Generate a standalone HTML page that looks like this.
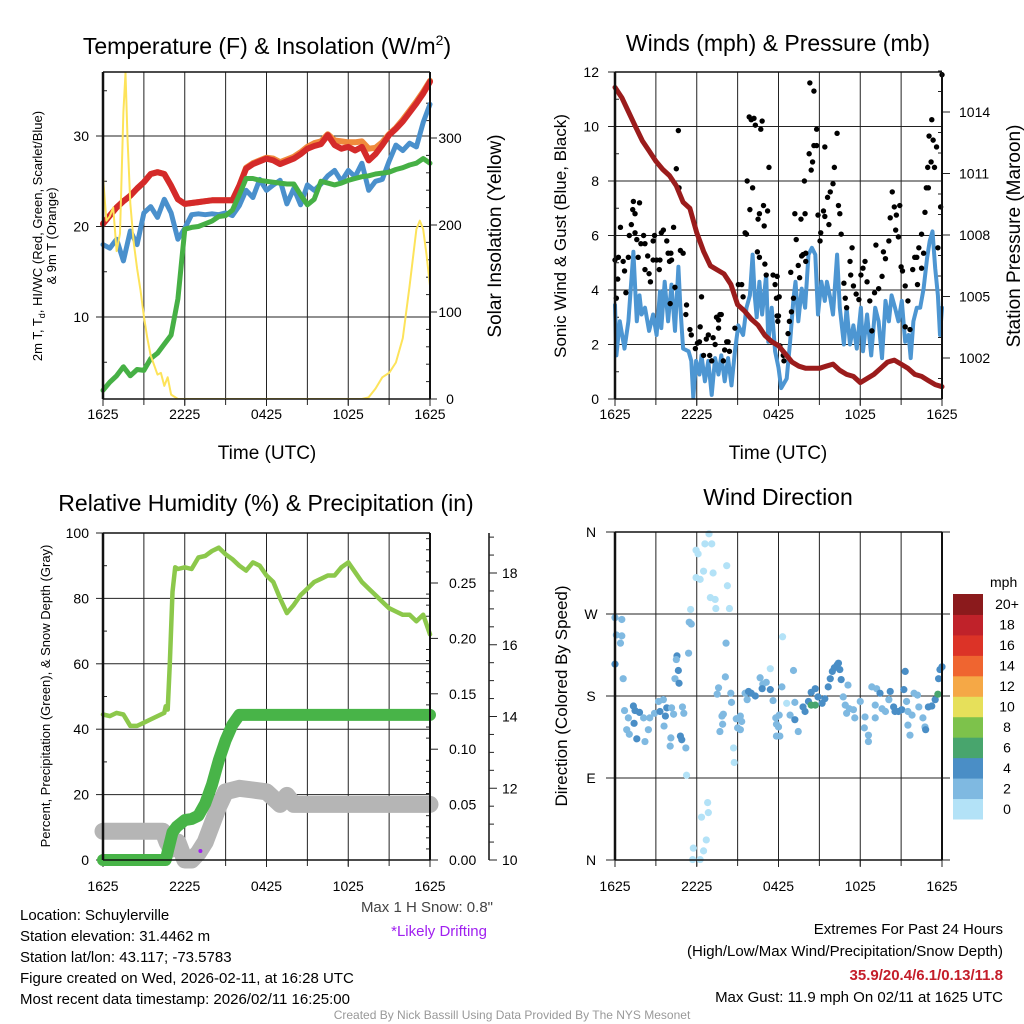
<!DOCTYPE html>
<html><head><meta charset="utf-8">
<style>
body{margin:0;background:#fff;}
svg{display:block;font-family:"Liberation Sans",Arial,sans-serif;}
</style></head>
<body>
<svg id="chart" width="1024" height="1024" viewBox="0 0 1024 1024" xmlns="http://www.w3.org/2000/svg">
<rect width="1024" height="1024" fill="#fff"/>
<g id="g1"></g>
<g id="g2"></g>
<g id="g3"></g>
<g id="g4"></g>

<text x="267" y="54" font-size="23" text-anchor="middle">Temperature (F) &amp; Insolation (W/m<tspan font-size="14" dy="-9">2</tspan><tspan dy="9">)</tspan></text>
<text x="778" y="51" font-size="23" text-anchor="middle">Winds (mph) &amp; Pressure (mb)</text>
<text x="266" y="511" font-size="23" text-anchor="middle">Relative Humidity (%) &amp; Precipitation (in)</text>
<text x="778" y="505" font-size="23" text-anchor="middle">Wind Direction</text>

<text transform="translate(42,236) rotate(-90)" font-size="13" text-anchor="middle">2m T, T<tspan font-size="9" dy="3">d</tspan><tspan dy="-3">, HI/WC (Red, Green, Scarlet/Blue)</tspan></text>
<text transform="translate(56,236) rotate(-90)" font-size="13" text-anchor="middle">&amp; 9m T (Orange)</text>
<text transform="translate(501,236) rotate(-90)" font-size="19" text-anchor="middle">Solar Insolation (Yellow)</text>
<text x="267" y="459" font-size="19" text-anchor="middle">Time (UTC)</text>
<text transform="translate(566,236) rotate(-90)" font-size="17" text-anchor="middle">Sonic Wind &amp; Gust (Blue, Black)</text>
<text transform="translate(1020,236) rotate(-90)" font-size="19" text-anchor="middle">Station Pressure (Maroon)</text>
<text x="778" y="459" font-size="19" text-anchor="middle">Time (UTC)</text>
<text transform="translate(50,696) rotate(-90)" font-size="13" text-anchor="middle">Percent, Precipitation (Green), &amp; Snow Depth (Gray)</text>
<text transform="translate(567,696) rotate(-90)" font-size="17" text-anchor="middle">Direction (Colored By Speed)</text>

<text x="493" y="912" font-size="15" fill="#444" text-anchor="end">Max 1 H Snow: 0.8"</text>
<text x="487" y="936" font-size="15" fill="#a020f0" text-anchor="end">*Likely Drifting</text>
<g font-size="15">
<text x="20" y="920">Location: Schuylerville</text>
<text x="20" y="941">Station elevation: 31.4462 m</text>
<text x="20" y="962">Station lat/lon: 43.117; -73.5783</text>
<text x="20" y="983">Figure created on Wed, 2026-02-11, at 16:28 UTC</text>
<text x="20" y="1004">Most recent data timestamp: 2026/02/11 16:25:00</text>
</g>
<g font-size="15" text-anchor="end">
<text x="1003" y="934">Extremes For Past 24 Hours</text>
<text x="1003" y="956">(High/Low/Max Wind/Precipitation/Snow Depth)</text>
<text x="1003" y="980" fill="#c41e2a" font-weight="bold">35.9/20.4/6.1/0.13/11.8</text>
<text x="1003" y="1002">Max Gust: 11.9 mph On 02/11 at 1625 UTC</text>
</g>
<text x="512" y="1019" font-size="12" fill="#999" text-anchor="middle">Created By Nick Bassill Using Data Provided By The NYS Mesonet</text>
</svg>
<script>
// ===== data =====
const timeLabels=["1625","2225","0425","1025","1625"];
const halfHours=[0,0.5,1,1.5,2,2.5,3,3.5,4,4.5,5,5.5,6,6.5,7,7.5,8,8.5,9,9.5,10,10.5,11,11.5,12,12.5,13,13.5,14,14.5,15,15.5,16,16.5,17,17.5,18,18.5,19,19.5,20,20.5,21,21.5,22,22.5,23,23.5,24];
const tempRed=[20.3,21.2,22.1,22.8,23.4,24.2,24.9,25.8,26,25.8,24.5,23,22.5,22.6,22.7,22.8,22.9,22.9,22.9,22.9,24.5,26.4,26.9,27.2,27.5,27.3,26.9,27.2,27.5,28,28.6,28.9,29.1,30.1,29,28.6,28.8,28.4,28.8,27.3,28,29,30.1,30.8,31.6,32.6,33.6,34.7,36];
const tempOrange=[20.3,21.2,22.1,22.8,23.4,24.2,24.9,25.8,26,25.8,24.5,23,22.5,22.6,22.7,22.8,22.9,22.9,22.9,22.9,24.5,26.5,27,27.3,27.6,27.5,27.1,27.4,27.7,28.2,28.8,29.2,29.4,30.2,29.5,29.4,29.3,29.3,29.4,28.6,28.7,29.3,30.2,30.9,31.8,32.8,33.8,34.9,36.1];
const tempBlue=[18,17.6,18.6,16.2,19.5,18,21.5,22.2,21,23,21.5,18.6,19.8,21.3,21.4,21.3,21.4,21.3,21.5,21.2,22.3,24,23.2,25.2,24,24.6,25.1,22.5,24.2,22.4,24.6,24,24.7,25.6,26.2,25,26.2,25.5,27,24,25,25.2,27.2,29,28.4,29.2,28.8,31.5,33.5];
const dewGreen=[1.9,2.8,3.5,4.5,3.5,4.2,4.1,5.4,6,7,8,12,19.7,19.9,20,20.3,20.6,21.1,21.2,21.8,23.5,25.3,25.3,25.1,25,24.9,24.8,24.7,24.7,23.5,22.4,23,25,24.8,24.6,24.8,25.1,25.3,25.5,25.6,25.8,25.9,26,26.3,26.5,26.8,27,27.5,27];
const solarHours=[0,0.25,0.5,0.75,1,1.25,1.5,1.65,1.8,2,2.25,2.5,2.75,3,3.25,3.5,4,4.25,4.5,4.75,5,5.5,19,19.5,20,20.5,21,21.5,22,22.5,23,23.25,23.5,23.75,24];
const solarValues=[255,205,210,220,170,190,330,375,300,225,180,150,125,95,70,50,28,30,15,25,5,0,0,2,12,25,30,42,70,130,195,205,195,165,130];

const windHours=[0,0.1,0.35,0.7,0.98,1.35,1.6,1.8,1.95,2.2,2.5,2.8,3.05,3.3,3.4,3.65,3.9,4.15,4.4,4.65,4.8,5.0,5.4,5.6,5.75,5.95,6.2,6.35,6.6,6.85,7.1,7.35,7.6,7.8,8.05,8.3,8.55,8.8,9.05,9.4,9.65,9.9,10.1,10.25,10.4,10.6,10.8,11.1,11.25,11.5,11.75,12.0,12.2,12.6,12.85,13.1,13.25,13.45,13.7,13.95,14.2,14.45,14.7,14.9,15.15,15.4,15.55,15.8,16.0,16.3,16.5,16.8,17.0,17.25,17.5,17.75,18.05,18.2,18.5,18.8,19.1,19.35,19.6,19.85,20.1,20.3,20.55,20.8,21.05,21.3,21.55,21.7,21.9,22.15,22.4,22.65,22.9,23.1,23.3,23.5,23.7,23.85,24];
const windValues=[3.45,1.6,2.85,1.85,2.85,5.4,2.85,3.8,3.1,3.35,2.5,3.1,2.35,3.95,2.6,4.3,2.85,4.2,2.5,4.85,3.35,1.85,1.75,1.4,0.05,1.4,0.9,1.6,0.65,1.4,0.15,1.5,0.9,1.6,0.65,1.5,0.5,1.75,2.7,2.35,3.35,3.8,5.3,3.8,3.0,4.3,3.1,4.55,2.1,3.35,1.75,1.15,0.4,0.75,2.1,3.7,4.3,2.85,4.05,3.35,5.3,5.55,5.3,3.1,4.3,3.6,4.3,3.7,3.1,5.3,3.35,2.0,3.35,2.0,2.7,1.85,3.35,1.75,3.1,1.6,3.35,2.85,1.5,3.6,2.85,3.8,3.35,2.85,3.6,2.1,2.35,1.5,2.85,3.35,3.35,4.05,5.15,5.8,6.15,4.8,3.8,2.35,3.35];
const pressureValues=[1015.2,1014.7,1014.0,1013.3,1012.6,1012.1,1011.6,1011.2,1010.9,1010.4,1009.6,1009.3,1008.1,1007.2,1006.5,1006.3,1006.1,1005.6,1004.6,1004.3,1003.9,1003.6,1003.1,1002.8,1002.6,1002.2,1001.8,1001.6,1001.5,1001.5,1001.5,1001.6,1001.7,1001.4,1001.2,1001.1,1000.8,1001.0,1001.2,1001.5,1001.8,1001.9,1001.7,1001.5,1001.2,1001.1,1000.9,1000.7,1000.6];
const gustHours=[0,0.1,0.2,0.25,0.4,0.6,0.7,0.8,0.98,1.05,1.2,1.3,1.35,1.47,1.47,1.6,1.7,1.8,1.9,2.1,2.2,2.2,2.4,2.5,2.6,2.8,2.8,2.9,3.05,3.25,3.3,3.4,3.55,3.8,3.9,4.0,4.05,4.1,4.15,4.3,4.4,4.5,4.65,4.7,4.8,5.0,5.2,5.25,5.5,5.6,5.9,6.05,6.2,6.25,6.35,6.5,6.7,6.85,6.95,7.1,7.2,7.35,7.45,7.6,7.6,7.7,7.8,7.95,8.05,8.2,8.3,8.4,8.8,9.05,9.3,9.4,9.55,9.65,9.7,9.85,9.9,10.0,10.1,10.2,10.3,10.45,10.5,10.6,10.6,10.7,10.8,10.9,10.95,11.0,11.1,11.2,11.3,11.6,11.75,11.85,11.9,11.9,11.95,12.0,12.05,12.1,12.35,12.4,12.7,12.8,12.9,12.95,13.1,13.2,13.3,13.45,13.55,13.65,13.7,13.8,13.9,13.95,14.0,14.0,14.25,14.3,14.4,14.5,14.6,14.6,14.8,14.8,14.9,15.05,15.1,15.3,15.4,15.4,15.6,15.7,15.8,16.0,16.1,16.3,16.4,16.5,16.6,16.8,16.9,17.0,17.25,17.3,17.4,17.5,17.7,17.9,18.05,18.2,18.35,18.5,18.7,18.85,19.05,19.15,19.35,19.6,19.7,19.85,20.1,20.2,20.35,20.5,20.6,20.65,20.8,20.9,21.0,21.1,21.3,21.3,21.5,21.65,21.85,22.0,22.15,22.2,22.3,22.5,22.5,22.65,22.75,22.85,22.95,23.0,23.05,23.2,23.25,23.35,23.45,23.6,23.7,23.9,24.0];
const gustValues=[5.1,3.7,4.4,5.2,6.3,5.05,4.7,3.9,5.2,6.0,6.4,6.95,7.25,6.8,6.1,5.85,5.2,7.2,5.7,6.0,5.7,4.75,5.25,4.6,4.3,5.1,5.8,6.0,5.1,4.75,5.1,6.1,6.2,5.8,5.35,5.05,3.5,5.35,5.1,6.3,4.1,8.45,9.85,7.75,5.45,5.35,3.1,3.45,2.55,2.35,1.85,2.05,2.1,2.65,3.75,1.6,2.2,2.35,1.6,1.4,2.25,2.0,3.0,2.9,2.6,3.1,3.1,1.4,1.8,2.1,2.1,1.75,2.6,4.2,4.2,3.75,6.1,6.05,8.0,10.35,6.95,10.25,7.75,10.3,10.05,5.4,6.6,6.8,5.2,9.9,10.2,7.1,6.35,4.95,4.55,6.9,8.5,4.55,4.2,3.7,4.5,3.05,2.85,3.05,3.75,1.95,1.6,1.4,2.4,2.85,4.65,3.2,3.7,6.8,5.85,4.9,4.45,6.6,5.25,5.3,8.0,6.8,5.05,5.35,9.0,11.6,8.4,8.7,9.3,11.3,9.3,9.9,6.75,5.8,6.1,6.9,9.25,6.7,7.4,6.4,7.6,7.9,8.5,9.75,7.1,6.8,6.05,4.25,3.7,3.35,5.05,4.55,5.55,4.15,3.85,3.65,4.55,4.8,5.05,4.3,3.6,2.5,3.9,5.65,4.05,4.5,5.4,5.15,5.8,6.65,7.6,7.05,6.2,6.75,5.95,7.1,4.85,4.7,4.15,2.65,3.6,2.55,4.75,5.2,5.2,4.2,5.55,4.8,6.05,5.35,6.85,7.75,8.5,7.75,9.65,8.7,10.25,9.5,8.5,9.25,5.55,7.05,11.9];

const rhHours=[0,0.5,1,1.5,2,2.5,3,3.5,4,4.5,4.6,4.75,4.9,5.1,5.3,5.5,6,6.5,7,7.5,8,8.5,9,9.5,10,10.5,11,11.5,12,12.5,13,13.5,14,14.5,15,15.5,16,16.5,17,17.5,18,18.5,19,19.5,20,20.5,21,21.5,22,22.5,23,23.5,24];
const rhValues=[44.5,44,45,44.5,41,41,42,43,44,45,47,46,60,82,89.5,89,89.5,89,92.5,93,94.5,95.5,93.5,92,90,88.5,91,90,87,85,80,75.5,78,81,83,85,86,87,87,89.5,91,88,85,83,81,79,77,76,75,75,73,75,69];
const precipHours=[0,4.6,4.8,5.1,5.4,6,6.5,7,7.5,8,8.5,9,9.5,10,24];
const precipValues=[0,0,0.01,0.025,0.03,0.036,0.037,0.04,0.051,0.068,0.09,0.108,0.122,0.131,0.131];
const snowHours=[0,4.4,4.7,5,5.5,6,6.5,7,7.5,8,8.5,9,10,11,12,13,13.5,14,15,24];
const snowValues=[10.8,10.8,10.5,10.3,10.5,10.0,10.0,10.2,10.5,11.0,11.5,11.9,12.0,11.95,11.9,11.55,11.8,11.55,11.55,11.55];
const driftHours=[7.15];
const driftSnow=[10.25];

const dirHours=[0,0.5,0.1,0.5,0.4,0,0.6,0.7,0.98,1.35,1.47,1.8,1.4,1.6,0.86,1.05,2.1,2.45,2.2,2.55,2.9,3.2,3.55,3.3,3.7,3.8,3.6,4.15,4.3,4.95,5.05,4.1,4.05,4.8,4.9,5.2,4.55,4.5,4.65,4.4,4.7,5.4,5.45,5.6,5.55,5.25,5.95,6.1,6.6,6.9,7.1,5.95,6.25,6.5,7.2,8.2,8.25,7.0,7.35,7.4,8.4,8.15,8.1,6.8,6.85,6.35,6.7,5.75,6.5,5.7,6.25,8.7,8.75,11.4,7.6,7.5,8.5,8.55,7.85,7.95,7.7,7.9,8.9,9.2,9.3,9.2,9.0,9.55,9.8,10.0,10.3,9.7,10.65,10.85,10.8,11.1,11.4,11.6,11.8,11.85,11.85,12.3,13.1,12.25,12.6,12.05,12.0,12.1,12.85,13.2,13.45,13.2,13.8,13.95,14.2,14.4,14.7,14.4,14.7,14.9,15.2,15.4,15.65,15.8,15.95,16.1,16.3,16.4,16.5,16.6,17.1,16.75,16.9,17.2,17.0,17.5,17.6,18.0,18.35,18.3,18.6,18.6,18.85,19.2,19.1,19.1,19.45,19.6,19.85,20.2,20.1,20.45,20.55,20.8,21.05,21.2,21.3,21.4,21.5,21.8,21.5,21.65,21.95,22.2,22.3,22.6,22.75,22.8,23.0,23.25,23.5,23.7,23.75,23.85,24.0];
const dirDegrees=[266,264,247,246,238,215,199,164,156,169,164,162,150,133,143,138,156,143,130,156,161,174,176,163,158,167,147,167,160,168,161,134,125,136,132,123,224,220,208,199,194,227,261,259,275,93,340,336,347,358,347,310,308,317,315,323,301,288,286,276,276,238,201,63,52,47,22,13,10,0.5,0.5,123,107,210,189,182,183,173,158,160,141,149,155,158,152,143,145,183,185,183,180,176,200,193,188,195,187,175,156,149,136,245,208,190,172,159,146,136,159,154,141,173,168,163,174,170,170,184,188,179,172,177,190,199,207,211,214,216,209,198,192,179,170,166,161,165,156,174,157,145,137,130,190,188,170,156,183,166,163,185,176,168,163,163,165,187,207,174,163,159,148,137,183,181,168,156,146,143,168,169,176,182,199,209,212];
const dirSpeeds=[2,2,2,2,2,3,2,2,2,3,3,3,3,3,2,2,2,2,2,2,2,2,2,3,3,3,2,2,2,2,2,2,2,3,3,2,3,2,3,2,3,2,2,1,0,0,0,0,0,0,0,0,0,0,0,0,0,0,0,0,0,1,1,0,0,0,0,0,0,0,0,0,0,0,2,2,1,2,2,1,2,1,2,2,2,2,2,2,3,3,3,2,2,2,3,2,3,2,2,2,1,0,1,1,0,2,2,1,2,3,2,2,3,3,3,6,6,3,3,3,3,3,3,3,3,3,3,3,3,3,2,2,2,2,2,2,2,2,2,2,2,2,2,2,2,2,3,2,2,3,2,3,3,3,3,3,3,2,1,2,2,2,2,2,2,2,2,3,3,3,3,6,3,3,3,3,3];
const speedBinLabels=["0","2","4","6","8","10","12","14","16","18","20+"];
const speedBinColors=["#b3e2f7","#7fb9e1","#4a8ec6","#48a56d","#7dc24b","#e6e05a","#f5a846","#ef6530","#dc3327","#c0222a","#8b1a1c"];

// ===== drawing helpers =====
const NS="http://www.w3.org/2000/svg";
function mk(parent,tag,attrs,text){const e=document.createElementNS(NS,tag);for(const k in attrs)e.setAttribute(k,attrs[k]);if(text!==undefined)e.textContent=text;parent.appendChild(e);return e;}
function lin(d0,d1,r0,r1){return v=>r0+(v-d0)*(r1-r0)/(d1-d0);}
function pathFrom(xs,ys,fx,fy){return xs.map((x,i)=>(i?"L":"M")+fx(x).toFixed(1)+","+fy(ys[i]).toFixed(1)).join("");}

function frame(g,X0,X1,Y0,Y1,xs,lblOff){
  for(let h=3;h<24;h+=3){
    const l=mk(g,"line",{x1:xs(h),x2:xs(h),y1:Y0,y2:Y1,stroke:"#222","stroke-width":1});
    
    
    mk(g,"line",{x1:xs(h),x2:xs(h),y1:Y1,y2:Y1+6,stroke:"#222","stroke-width":1});
  }
  timeLabels.forEach((t,i)=>{
    const h=i*6;
    mk(g,"line",{x1:xs(h),x2:xs(h),y1:Y1,y2:Y1+7,stroke:"#222","stroke-width":1});
    const tx=mk(g,"text",{x:xs(h),y:Y1+lblOff,"font-size":14,"text-anchor":"middle"},t);
    
    
  });
}
function hgrid(g,X0,X1,y){mk(g,"line",{x1:X0,x2:X1,y1:y,y2:y,stroke:"#222","stroke-width":1});}
function border(g,X0,X1,Y0,Y1){
  mk(g,"line",{x1:X0,x2:X1,y1:Y0,y2:Y0,stroke:"#111","stroke-width":1.5});
  mk(g,"line",{x1:X0,x2:X1,y1:Y1,y2:Y1,stroke:"#111","stroke-width":1.5});
  mk(g,"line",{x1:X0,x2:X0,y1:Y0,y2:Y1,stroke:"#111","stroke-width":2.5});
  mk(g,"line",{x1:X1,x2:X1,y1:Y0,y2:Y1,stroke:"#111","stroke-width":2});
}

// ===== Panel 1 =====
(function(){
  const g=document.getElementById("g1");
  const X0=103,X1=430,Y0=72,Y1=399;
  const xs=lin(0,24,X0,X1), yT=lin(10,30,317,136), yS=lin(0,300,399,138);
  frame(g,X0,X1,Y0,Y1,xs,20);
  [10,20,30].forEach(v=>{hgrid(g,X0,X1,yT(v));mk(g,"line",{x1:X0-7,x2:X0,y1:yT(v),y2:yT(v),stroke:"#222"});
    const t=mk(g,"text",{x:89,y:yT(v)+5,"font-size":14,"text-anchor":"end"},v);});
  [5,15,25,35].forEach(v=>mk(g,"line",{x1:X0,x2:X0+4,y1:yT(v),y2:yT(v),stroke:"#222"}));
  [0,100,200,300].forEach(v=>{mk(g,"line",{x1:X1,x2:X1+7,y1:yS(v),y2:yS(v),stroke:"#222"});
    const t=mk(g,"text",{x:450,y:yS(v)+5,"font-size":14,"text-anchor":"middle"},v);});
  for(let v=20;v<=360;v+=20){if(v%100)mk(g,"line",{x1:X1-4,x2:X1,y1:yS(v),y2:yS(v),stroke:"#222"});}
  const cp=mk(g,"clipPath",{id:"c1"});mk(cp,"rect",{x:X0-3,y:Y0,width:X1-X0+6,height:Y1-Y0});
  const pg=mk(g,"g",{"clip-path":"url(#c1)"});
  let p;
  p=mk(pg,"path",{d:pathFrom(halfHours,tempOrange,xs,yT),fill:"none",stroke:"#f08a3c","stroke-width":6,"stroke-linejoin":"round","stroke-linecap":"round"});
  p=mk(pg,"path",{d:pathFrom(halfHours,tempRed,xs,yT),fill:"none",stroke:"#d42a2a","stroke-width":6,"stroke-linejoin":"round","stroke-linecap":"round"});
  p=mk(pg,"path",{d:pathFrom(halfHours,tempBlue,xs,yT),fill:"none",stroke:"#4a90cc","stroke-width":5,"stroke-linejoin":"round","stroke-linecap":"round"});
  p=mk(pg,"path",{d:pathFrom(halfHours,dewGreen,xs,yT),fill:"none",stroke:"#46b045","stroke-width":5,"stroke-linejoin":"round","stroke-linecap":"round"});
  p=mk(pg,"path",{d:pathFrom(solarHours,solarValues,xs,yS),fill:"none",stroke:"#fde35a","stroke-width":2,"stroke-linejoin":"round"});
  border(g,X0,X1,Y0,Y1);
})();

// ===== Panel 2 =====
(function(){
  const g=document.getElementById("g2");
  const X0=615,X1=942,Y0=72,Y1=399;
  const xs=lin(0,24,X0,X1), yW=lin(0,12,399,72), yP=lin(1002,1014,358,112);
  frame(g,X0,X1,Y0,Y1,xs,20);
  [0,2,4,6,8,10,12].forEach(v=>{if(v>0&&v<12)hgrid(g,X0,X1,yW(v));mk(g,"line",{x1:X0-7,x2:X0,y1:yW(v),y2:yW(v),stroke:"#222"});
    const t=mk(g,"text",{x:599,y:yW(v)+5,"font-size":14,"text-anchor":"end"},v);});
  [1,3,5,7,9,11].forEach(v=>mk(g,"line",{x1:X0,x2:X0+4,y1:yW(v),y2:yW(v),stroke:"#222"}));
  [1002,1005,1008,1011,1014].forEach(v=>{mk(g,"line",{x1:X1,x2:X1+8,y1:yP(v),y2:yP(v),stroke:"#222"});
    const t=mk(g,"text",{x:959,y:yP(v)+5,"font-size":14},v);});
  for(let v=1000;v<=1016;v++){if((v-1002)%3)mk(g,"line",{x1:X1-4,x2:X1,y1:yP(v),y2:yP(v),stroke:"#222"});}
  const cp=mk(g,"clipPath",{id:"c2"});mk(cp,"rect",{x:X0-3,y:Y0-3,width:X1-X0+6,height:Y1-Y0+6});
  const pg=mk(g,"g",{"clip-path":"url(#c2)"});
  let p=mk(pg,"path",{d:pathFrom(windHours,windValues,xs,yW),fill:"none",stroke:"#4d96d2","stroke-width":4,"stroke-linejoin":"round","stroke-linecap":"round"});
  
  gustHours.forEach((h,i)=>{const c=mk(pg,"circle",{cx:xs(h),cy:yW(gustValues[i]),r:2.7,fill:"#000"});
    });
  p=mk(pg,"path",{d:pathFrom(halfHours,pressureValues,xs,yP),fill:"none",stroke:"#9b1c1c","stroke-width":5,"stroke-linejoin":"round","stroke-linecap":"round"});
  
  border(g,X0,X1,Y0,Y1);
})();

// ===== Panel 3 =====
(function(){
  const g=document.getElementById("g3");
  const X0=103,X1=430,Y0=533,Y1=860;
  const xs=lin(0,24,X0,X1), yR=lin(0,100,860,533), yPr=lin(0,0.25,860,583), ySn=lin(10,18,860,573);
  frame(g,X0,X1,Y0,Y1,xs,31);
  [0,20,40,60,80,100].forEach(v=>{if(v>0&&v<100)hgrid(g,X0,X1,yR(v));mk(g,"line",{x1:X0-7,x2:X0,y1:yR(v),y2:yR(v),stroke:"#222"});
    const t=mk(g,"text",{x:89,y:yR(v)+5,"font-size":14,"text-anchor":"end"},v);});
  [10,30,50,70,90].forEach(v=>mk(g,"line",{x1:X0,x2:X0+4,y1:yR(v),y2:yR(v),stroke:"#222"}));
  [0,0.05,0.1,0.15,0.2,0.25].forEach(v=>{mk(g,"line",{x1:X1,x2:X1+8,y1:yPr(v),y2:yPr(v),stroke:"#222"});
    const t=mk(g,"text",{x:449,y:yPr(v)+5,"font-size":14},v.toFixed(2));});
  for(let v=0.01;v<0.295;v+=0.01){if(Math.round(v*100)%5)mk(g,"line",{x1:X1-4,x2:X1,y1:yPr(v),y2:yPr(v),stroke:"#222"});}
  mk(g,"line",{x1:489,x2:489,y1:533,y2:860,stroke:"#111","stroke-width":1.5});
  [10,12,14,16,18].forEach(v=>{mk(g,"line",{x1:489,x2:497,y1:ySn(v),y2:ySn(v),stroke:"#222"});
    const t=mk(g,"text",{x:502,y:ySn(v)+5,"font-size":14},v);});
  for(let v=10.5;v<19.1;v+=0.5){if(v%2)mk(g,"line",{x1:489,x2:494,y1:ySn(v),y2:ySn(v),stroke:"#222"});}
  const cp=mk(g,"clipPath",{id:"c3"});mk(cp,"rect",{x:X0-12,y:Y0,width:X1-X0+24,height:Y1-Y0+12});
  const pg=mk(g,"g",{"clip-path":"url(#c3)"});
  let p=mk(pg,"path",{d:pathFrom(snowHours,snowValues,xs,ySn),fill:"none",stroke:"#b5b5b5","stroke-width":17,"stroke-linejoin":"round","stroke-linecap":"round"});
  
  p=mk(pg,"path",{d:pathFrom(precipHours,precipValues,xs,yPr),fill:"none",stroke:"#48b448","stroke-width":12,"stroke-linejoin":"round","stroke-linecap":"round"});
  
  p=mk(pg,"path",{d:pathFrom(rhHours,rhValues,xs,yR),fill:"none",stroke:"#8cc84b","stroke-width":4.5,"stroke-linejoin":"round","stroke-linecap":"round"});
  
  driftHours.forEach((h,i)=>{const c=mk(pg,"circle",{cx:xs(h),cy:ySn(driftSnow[i]),r:2,fill:"#a020f0"});
    });
  border(g,X0,X1,Y0,Y1);
})();

// ===== Panel 4 =====
(function(){
  const g=document.getElementById("g4");
  const X0=615,X1=942,Y0=532,Y1=860;
  const xs=lin(0,24,X0,X1), yD=lin(0,360,860,532);
  frame(g,X0,X1,Y0,Y1,xs,31);
  const dl=["N","E","S","W","N"];
  [0,90,180,270,360].forEach((v,i)=>{hgrid(g,X0-9,X1+8,yD(v));
    const t=mk(g,"text",{x:591,y:yD(v)+5,"font-size":14,"text-anchor":"middle"},dl[i]);});
  dirHours.forEach((h,i)=>{const s=dirSpeeds[i];const idx=Math.min(10,Math.floor((s+1)/2));
    const c=mk(g,"circle",{cx:xs(h),cy:yD(dirDegrees[i]),r:3.6,fill:speedBinColors[idx]});
    });
  border(g,X0,X1,Y0,Y1);
  const cb=mk(g,"g",{});
  
  const bh=225/11;
  speedBinColors.forEach((c,i)=>{const y=819-(i+1)*bh;
    const r=mk(cb,"rect",{x:953,y:y,width:30,height:bh+0.5,fill:c});
    const t=mk(cb,"text",{x:1007,y:y+bh/2+5,"font-size":14,"text-anchor":"middle"},speedBinLabels[i]);});
  const t=mk(cb,"text",{x:990,y:587,"font-size":14},"mph");
})();
</script>
</body></html>
